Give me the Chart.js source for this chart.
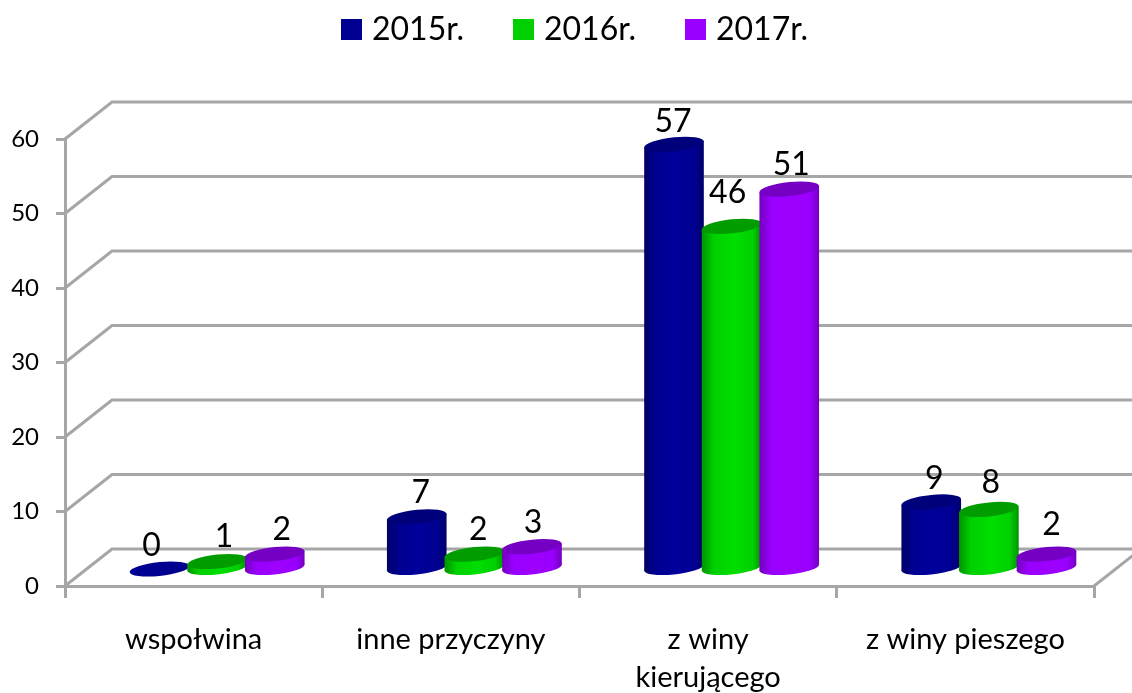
<!DOCTYPE html>
<html><head><meta charset="utf-8">
<style>html,body{margin:0;padding:0;background:#fff;overflow:hidden}#w{width:1132px;height:693px}</style>
<script src="https://cdn.jsdelivr.net/npm/chart.js@4"></script>
</head><body><div id="w"><canvas id="c" width="1132" height="693"></canvas></div>
<script>
const categories = ['wspołwina', 'inne przyczyny', ['z winy', 'kierującego'], 'z winy pieszego'];
const seriesNames = ['2015r.', '2016r.', '2017r.'];
const values2015 = [0, 7, 57, 9];
const values2016 = [1, 2, 46, 8];
const values2017 = [2, 3, 51, 2];
const yTicks = [0, 10, 20, 30, 40, 50, 60];

const FONT = 'Lato, "Open Sans", sans-serif';
const GREY = '#a6a6a6';
const DEPTH_X = 47, DEPTH_Y = 37, FLOOR_X = 23.5, FLOOR_Y = 17;
const RY = 7, SLOPE = 0.1;
const palette = [
  {main:'#000090', mid:'#00009c', edge:'#000068', top:'#00007a'},
  {main:'#00d000', mid:'#00de00', edge:'#009400', top:'#009c00'},
  {main:'#9900ff', mid:'#9d00ff', edge:'#7400bc', top:'#7500c4'}
];
// hand offsets of the value labels, [dx, dy] from the top of each cylinder
const labelNudge = [
  [[-8,-23],[4,-24],[-1,-23],[3,-23]],
  [[7,-25],[4,-24],[-4,-34],[2,-27]],
  [[7,-24],[1,-24],[2,-24],[5,-29]]
];

const cylinders = {
  id: 'cylinders',
  beforeDatasetDraw() { return false; },
  beforeDatasetsDraw(chart) {
    const {ctx, scales:{x, y}} = chart;
    ctx.save();
    ctx.strokeStyle = GREY; ctx.lineWidth = 3;
    // walls and floor
    yTicks.forEach(v => {
      const py = y.getPixelForValue(v);
      ctx.beginPath();
      ctx.moveTo(x.left, py);
      ctx.lineTo(x.left + DEPTH_X, py - DEPTH_Y);
      ctx.lineTo(x.right + DEPTH_X, py - DEPTH_Y);
      ctx.stroke();
    });
    const p0 = y.getPixelForValue(0);
    ctx.beginPath();
    ctx.moveTo(x.right, p0);
    ctx.lineTo(x.right + DEPTH_X, p0 - DEPTH_Y);
    ctx.stroke();
    ctx.restore();
  },
  afterDatasetsDraw(chart) {
    const {ctx} = chart;
    chart.data.datasets.forEach((ds, di) => {
      const c = palette[di];
      chart.getDatasetMeta(di).data.forEach((bar, i) => {
        const rx = bar.width / 2;
        const topY = bar.y - FLOOR_Y, baseY = bar.base - FLOOR_Y;
        ctx.save();
        ctx.translate(bar.x + FLOOR_X, 0);
        ctx.transform(1, -SLOPE, 0, 1, 0, 0);
        if (ds.data[i] > 0) {
          const g = ctx.createLinearGradient(-rx, 0, rx, 0);
          g.addColorStop(0, c.edge);
          g.addColorStop(0.2, c.main);
          g.addColorStop(0.55, c.mid);
          g.addColorStop(0.85, c.main);
          g.addColorStop(1, c.edge);
          ctx.fillStyle = g;
          ctx.beginPath();
          ctx.ellipse(0, baseY, rx, RY, 0, 0, Math.PI * 2);
          ctx.fill();
          ctx.fillRect(-rx, topY, rx * 2, baseY - topY);
        }
        ctx.fillStyle = ds.data[i] > 0 ? c.top : c.main;
        ctx.beginPath();
        ctx.ellipse(0, topY, rx, RY, 0, 0, Math.PI * 2);
        ctx.fill();
        ctx.restore();
      });
    });
    // value labels
    ctx.save();
    ctx.fillStyle = '#000';
    ctx.font = '32px ' + FONT;
    ctx.textAlign = 'center';
    ctx.textBaseline = 'middle';
    chart.data.datasets.forEach((ds, di) => {
      chart.getDatasetMeta(di).data.forEach((bar, i) => {
        const n = labelNudge[di][i];
        ctx.fillText(String(ds.data[i]), bar.x + FLOOR_X + n[0], bar.y - FLOOR_Y + n[1]);
      });
    });
    // legend
    ctx.textAlign = 'left';
    chart.data.datasets.forEach((ds, di) => {
      const lx = 341 + di * 172;
      ctx.fillStyle = ds.backgroundColor;
      ctx.fillRect(lx, 19, 21, 21);
      ctx.fillStyle = '#000';
      ctx.fillText(ds.label, lx + 31, 30);
    });
    ctx.restore();
  }
};

const allValues = [values2015, values2016, values2017];
new Chart(document.getElementById('c'), {
  type: 'bar',
  data: {
    labels: categories,
    datasets: seriesNames.map((name, i) => ({
      label: name,
      data: allValues[i],
      backgroundColor: palette[i].main,
      borderWidth: 0,
      categoryPercentage: 0.672,
      barPercentage: 1.035,
      clip: false
    }))
  },
  plugins: [cylinders],
  options: {
    responsive: false,
    animation: false,
    layout: {padding: {top: 139, right: 38, left: 0, bottom: 0}},
    plugins: {legend: {display: false}, tooltip: {enabled: false}, title: {display: false}},
    scales: {
      x: {
        afterFit(s) { s.height = 107; },
        border: {color: GREY, width: 3},
        grid: {drawOnChartArea: false, color: GREY, lineWidth: 3, tickLength: 12},
        ticks: {
          color: '#000', maxRotation: 0, minRotation: 0, autoSkip: false, padding: 23,
          font: {family: FONT, size: 29, lineHeight: 1.31}
        }
      },
      y: {
        min: 0, max: 60,
        afterFit(s) { s.width = 65; },
        border: {color: GREY, width: 3},
        grid: {drawOnChartArea: false, color: GREY, lineWidth: 3, tickLength: 9},
        ticks: {
          color: '#000', stepSize: 10, padding: 17,
          font: {family: FONT, size: 24}
        }
      }
    }
  }
});
</script></body></html>
